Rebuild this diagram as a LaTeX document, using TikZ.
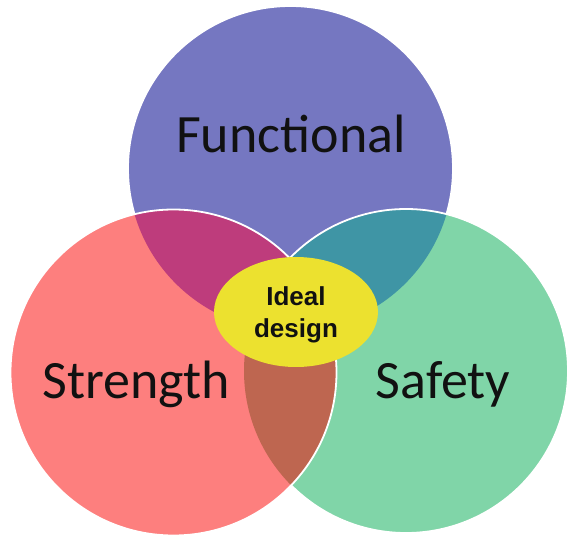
\documentclass[tikz,border=0pt]{standalone}
\usepackage{fontspec}
\usetikzlibrary{shapes.geometric}
\setmainfont{Carlito}
\newfontfamily\boldsans{Liberation Sans}
\definecolor{cblue}{HTML}{7577C1}
\definecolor{cred}{HTML}{FD7F7E}
\definecolor{cgreen}{HTML}{80D5A8}
\definecolor{cmag}{HTML}{BE3C7C}
\definecolor{cteal}{HTML}{3F95A5}
\definecolor{cbrown}{HTML}{BE6650}
\definecolor{cyellow}{HTML}{ECE12F}
\definecolor{ctext}{HTML}{111111}
\tikzset{
  rim/.style={draw=white, line width=1.8pt},
  biglabel/.style={anchor=base, inner sep=0pt, text=ctext, font=\fontsize{54}{60}\selectfont},
  smalllabel/.style={anchor=base, inner sep=0pt, text=ctext, font=\boldsans\bfseries\fontsize{26}{30}\selectfont}
}
\begin{document}
\begin{tikzpicture}[x=1pt,y=-1pt]
\useasboundingbox (0,0) rectangle (569,537);
\def\bluec{(290.5,168.5) circle[radius=162.5]}
\def\greenc{(406,371) circle[radius=162]}
\def\redc{(173.5,372.5) circle[radius=163]}
% blue
\fill[cblue] \bluec;
\draw[rim] \bluec;
% green
\fill[cgreen] \greenc;
\begin{scope}
  \clip \bluec;
  \fill[cteal] \greenc;
\end{scope}
\draw[rim] \greenc;
% red
\fill[cred] \redc;
\begin{scope}
  \clip \bluec;
  \fill[cmag] \redc;
\end{scope}
\begin{scope}
  \clip \greenc;
  \fill[cbrown] \redc;
\end{scope}
\draw[rim] \redc;
% centre
\node[ellipse, fill=cyellow, minimum width=164pt, minimum height=110pt, inner sep=0pt] (ideal) at (296,312) {};
\node[biglabel] (functional) at (291,153) {Functional};
\node[biglabel] (strength) at (136,398) {Strength};
\node[biglabel] (safety) at (443,398) {Safety};
\node[smalllabel] (idealtxt) at (296,305) {Ideal};
\node[smalllabel] (designtxt) at (296,337) {design};
\end{tikzpicture}
\end{document}
